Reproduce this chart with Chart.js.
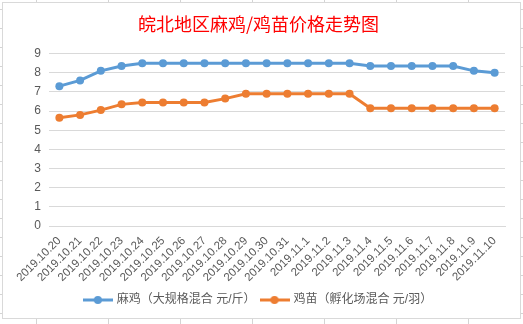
<!DOCTYPE html>
<html>
<head>
<meta charset="utf-8">
<script src="https://cdn.jsdelivr.net/npm/chart.js@4/dist/chart.umd.min.js"></script>
<style>
    html, body {
        margin: 0;
        padding: 0;
        width: 523px;
        height: 324px;
        overflow: hidden;
        background-color: #ffffff;
        /* spreadsheet cells behind the chart */
        background-image:
            linear-gradient(to right, #d4d4d4 1px, transparent 1px),
            linear-gradient(to bottom, #d4d4d4 1px, transparent 1px);
        background-size: 72px 19px;
        background-position: 36px 9px;
    }
    .chart-box {
        position: absolute;
        left: 2px;
        top: 2px;
        width: 519px;
        height: 317px;
        box-sizing: border-box;
        border: 1px solid #d9d9d9;
        background: #ffffff;
    }
    #priceChart {
        position: absolute;
        left: 0;
        top: 0;
    }
</style>
</head>
<body>
<div class="chart-box"></div>
<canvas id="priceChart" width="523" height="324"></canvas>

<script>
// Chart data
const dates = [
    '2019.10.20', '2019.10.21', '2019.10.22', '2019.10.23', '2019.10.24', '2019.10.25',
    '2019.10.26', '2019.10.27', '2019.10.28', '2019.10.29', '2019.10.30', '2019.10.31',
    '2019.11.1', '2019.11.2', '2019.11.3', '2019.11.4', '2019.11.5', '2019.11.6',
    '2019.11.7', '2019.11.8', '2019.11.9', '2019.11.10'
];

// 麻鸡 (元/斤)
const majiPrices = [
    7.3, 7.6, 8.1, 8.35, 8.5, 8.5, 8.5, 8.5, 8.5, 8.5, 8.5,
    8.5, 8.5, 8.5, 8.5, 8.35, 8.35, 8.35, 8.35, 8.35, 8.1, 8.0
];

// 鸡苗 (元/羽)
const jimiaoPrices = [
    5.65, 5.8, 6.05, 6.35, 6.45, 6.45, 6.45, 6.45, 6.65, 6.9, 6.9,
    6.9, 6.9, 6.9, 6.9, 6.15, 6.15, 6.15, 6.15, 6.15, 6.15, 6.15
];

const yTicks = [0, 1, 2, 3, 4, 5, 6, 7, 8, 9];

const chartTitle = '皖北地区麻鸡/鸡苗价格走势图';
const seriesNames = ['麻鸡（大规格混合 元/斤）', '鸡苗（孵化场混合 元/羽）'];

const BLUE = '#5b9bd5';
const ORANGE = '#ed7d31';
const FONT = '"Liberation Sans", "Noto Sans CJK SC", sans-serif';

// Legend marker: short line with a dot in the middle
function makeLegendMarker(color) {
    const c = document.createElement('canvas');
    c.width = 30;
    c.height = 10;
    const g = c.getContext('2d');
    g.strokeStyle = color;
    g.lineWidth = 3;
    g.beginPath();
    g.moveTo(0, 5);
    g.lineTo(30, 5);
    g.stroke();
    g.fillStyle = color;
    g.beginPath();
    g.arc(15, 5, 4, 0, Math.PI * 2);
    g.fill();
    return c;
}

document.addEventListener('DOMContentLoaded', function() {
    const ctx = document.getElementById('priceChart').getContext('2d');
    const markers = [makeLegendMarker(BLUE), makeLegendMarker(ORANGE)];

    new Chart(ctx, {
        type: 'line',
        data: {
            labels: dates,
            datasets: [{
                label: seriesNames[0],
                data: majiPrices,
                borderColor: BLUE,
                backgroundColor: BLUE,
                borderWidth: 3,
                pointRadius: 4,
                pointBorderWidth: 0,
                pointBackgroundColor: BLUE,
                tension: 0
            }, {
                label: seriesNames[1],
                data: jimiaoPrices,
                borderColor: ORANGE,
                backgroundColor: ORANGE,
                borderWidth: 3,
                pointRadius: 4,
                pointBorderWidth: 0,
                pointBackgroundColor: ORANGE,
                tension: 0
            }]
        },
        options: {
            responsive: false,
            devicePixelRatio: 1,
            animation: false,
            layout: {
                padding: { left: 12, right: 18, top: 0, bottom: 8 }
            },
            plugins: {
                title: {
                    display: true,
                    text: chartTitle,
                    color: '#ff0000',
                    font: { family: '"Noto Sans CJK SC", sans-serif', size: 18, weight: 'normal' },
                    padding: { top: 13, bottom: 19 }
                },
                legend: {
                    position: 'bottom',
                    labels: {
                        color: '#595959',
                        font: { family: FONT, size: 12 },
                        usePointStyle: true,
                        pointStyleWidth: 26,
                        padding: 6,
                        generateLabels: function(chart) {
                            const items = Chart.defaults.plugins.legend.labels.generateLabels(chart);
                            items.forEach((item, i) => {
                                item.pointStyle = markers[i];
                            });
                            return items;
                        }
                    }
                },
                tooltip: { enabled: false }
            },
            scales: {
                x: {
                    offset: true,
                    grid: { display: false, drawTicks: false },
                    border: { color: '#d9d9d9', width: 1 },
                    ticks: {
                        color: '#595959',
                        font: { family: FONT, size: 11.5 },
                        autoSkip: false,
                        maxRotation: 45,
                        minRotation: 45,
                        padding: 8
                    },
                    afterFit: function(scale) {
                        scale.height = 62;
                    }
                },
                y: {
                    min: 0,
                    max: 9,
                    afterBuildTicks: function(scale) {
                        scale.ticks = yTicks.map(v => ({ value: v }));
                    },
                    grid: { color: '#d9d9d9', drawTicks: false },
                    border: { display: false },
                    ticks: {
                        color: '#595959',
                        font: { family: FONT, size: 12 },
                        padding: 8
                    },
                    afterFit: function(scale) {
                        scale.width = 37;
                    }
                }
            }
        }
    });
});
</script>
</body>
</html>
